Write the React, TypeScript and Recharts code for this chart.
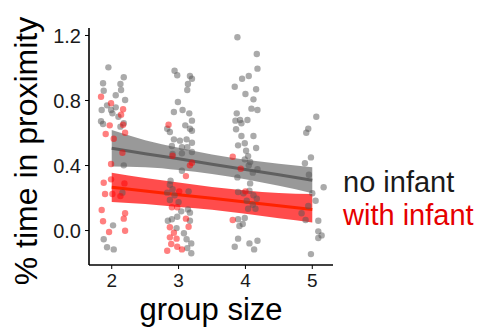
import { Area, ComposedChart, Line, Scatter, XAxis, YAxis } from "recharts";

const groupSizeTicks = [2, 3, 4, 5];
const proximityTicks = [0, 0.4, 0.8, 1.2];

const noInfantPoints: [number, number][] = [
  [1.95, 1.004], [2.18, 0.943], [1.87, 0.906], [2.13, 0.902], [1.88, 0.86], [2.14, 0.865],
  [2.06, 0.832], [2.2, 0.803], [1.93, 0.77], [1.85, 0.742], [1.99, 0.742], [2.06, 0.758],
  [2.01, 0.721], [2.1, 0.7], [1.84, 0.672], [1.87, 0.655], [2.13, 0.639], [2.18, 0.66],
  [2.18, 0.401], [2.16, 0.233], [2.02, 0.032], [1.88, -0.054], [1.93, -0.103], [2.03, -0.116],
  [2.94, 0.983], [2.98, 0.955], [3.17, 0.951], [3.2, 0.934], [3.14, 0.902], [3.13, 0.865],
  [2.99, 0.791], [2.93, 0.729], [3.06, 0.742], [3.16, 0.721], [3.2, 0.676], [3.1, 0.647],
  [2.83, 0.626], [2.87, 0.606], [3.17, 0.626], [3.2, 0.614], [2.93, 0.561], [3.02, 0.553],
  [3.12, 0.561], [3.2, 0.54], [2.9, 0.52], [3.05, 0.512], [3.13, 0.512], [3.2, 0.483],
  [2.91, 0.471], [3.05, 0.475], [3.05, 0.368], [2.88, 0.306], [2.87, 0.282], [2.91, 0.254],
  [2.83, 0.233], [3.15, 0.241], [2.94, 0.217], [2.87, 0.188], [3.0, 0.175], [3.04, 0.118],
  [3.14, 0.13], [3.17, 0.11], [2.84, 0.06], [2.9, 0.069], [2.98, 0.085], [3.17, 0.06],
  [2.97, 0.015], [3.08, -0.017], [3.12, -0.054], [3.19, -0.079], [3.13, -0.108], [3.19, -0.14],
  [3.88, 1.189], [4.17, 1.086], [4.18, 0.996], [3.95, 0.934], [4.05, 0.951], [3.84, 0.885],
  [4.16, 0.869], [4.0, 0.84], [4.12, 0.807], [4.09, 0.75], [4.18, 0.742], [3.87, 0.721],
  [3.85, 0.676], [3.92, 0.68], [4.03, 0.68], [3.94, 0.66], [3.86, 0.623], [3.94, 0.582],
  [4.12, 0.582], [3.89, 0.524], [3.99, 0.537], [4.16, 0.508], [4.01, 0.491], [4.04, 0.458],
  [3.99, 0.438], [4.07, 0.422], [4.05, 0.401], [4.18, 0.377], [4.11, 0.356], [3.88, 0.327],
  [4.07, 0.29], [3.89, 0.237], [3.97, 0.229], [4.06, 0.245], [4.12, 0.217], [4.17, 0.196],
  [4.02, 0.183], [4.11, 0.159], [4.04, 0.134], [4.15, 0.134], [3.89, 0.069], [3.99, 0.077],
  [3.91, 0.028], [3.96, 0.04], [3.89, -0.05], [4.18, -0.063], [3.84, -0.1], [4.06, -0.079],
  [4.13, -0.116],
  [5.06, 0.7], [4.94, 0.626], [4.91, 0.602], [4.98, 0.45], [4.89, 0.414], [4.95, 0.343],
  [5.17, 0.266], [5.05, 0.183], [4.84, 0.106], [4.9, 0.065], [5.09, 0.06], [5.09, -0.005],
  [5.09, -0.046], [5.14, -0.03], [4.98, -0.145], [4.94, 0.151], [5.0, 0.229],
];

const withInfantPoints: [number, number][] = [
  [1.84, 0.823], [1.99, 0.783], [2.17, 0.746], [2.14, 0.713], [1.97, 0.647], [2.17, 0.651],
  [1.91, 0.594], [2.2, 0.602], [2.03, 0.565], [2.16, 0.479], [1.99, 0.409], [1.88, 0.294],
  [1.99, 0.315], [2.19, 0.29], [1.9, 0.225], [2.01, 0.225], [2.13, 0.212], [1.85, 0.126],
  [2.2, 0.106], [2.18, 0.073], [1.87, 0.057], [1.96, -0.009], [2.2, -0.001],
  [2.85, 0.651], [2.91, 0.46], [3.17, 0.401], [3.2, 0.417], [3.11, 0.335], [3.01, 0.241],
  [2.9, 0.143], [2.98, 0.143], [3.11, 0.073], [2.87, 0.02], [3.15, 0.023], [2.93, -0.014],
  [2.87, -0.042], [2.97, -0.05], [2.89, -0.083], [2.98, -0.1], [2.83, -0.124], [3.05, -0.116],
  [3.81, 0.454], [3.93, 0.38], [4.0, 0.241], [3.81, 0.065],
];

// fitted lines and confidence bands
const fitX = [2, 2.5, 3, 3.5, 4, 4.5, 5];
const noInfantFit = [0.506, 0.473, 0.441, 0.408, 0.375, 0.343, 0.31];
const noInfantLow = [0.394, 0.39, 0.373, 0.348, 0.315, 0.275, 0.23];
const noInfantHigh = [0.618, 0.556, 0.509, 0.468, 0.435, 0.411, 0.39];
const withInfantFit = [0.266, 0.243, 0.22, 0.198, 0.175, 0.153, 0.13];
const withInfantLow = [0.176, 0.163, 0.145, 0.128, 0.103, 0.075, 0.05];
const withInfantHigh = [0.356, 0.323, 0.295, 0.268, 0.247, 0.231, 0.225];

const toRows = (pts: [number, number][]) => pts.map(([x, y]) => ({ x, y }));
const fitRows = (fit: number[], lo: number[], hi: number[]) =>
  fitX.map((x, i) => ({ x, fit: fit[i], band: [lo[i], hi[i]] }));

const FONT = "'Liberation Sans', Arial, Helvetica, sans-serif";

const dot = (fill: string) => (props: any) =>
  <circle cx={props.cx} cy={props.cy} r={3.2} fill={fill} fillOpacity={0.5} />;

export default function App() {
  const yTick = { fontSize: 20, fill: "#1a1a1a", fontFamily: FONT };
  const xTick = { fontSize: 19, fill: "#1a1a1a", fontFamily: FONT };
  return (
    <div style={{ position: "absolute", left: 0, top: 0, width: 479, height: 327, background: "#fff" }}>
      <ComposedChart width={479} height={327} margin={{ top: 28, right: 146, bottom: 0, left: 0 }}>
        <XAxis
          type="number"
          dataKey="x"
          domain={[1.66, 5.31]}
          ticks={groupSizeTicks}
          allowDataOverflow
          height={62}
          tick={xTick}
          tickSize={4}
          tickMargin={5}
          axisLine={{ stroke: "#000", strokeWidth: 1.6 }}
          tickLine={{ stroke: "#000" }}
        />
        <YAxis
          type="number"
          dataKey="y"
          domain={[-0.212, 1.246]}
          ticks={proximityTicks}
          allowDataOverflow
          width={89}
          tick={yTick}
          tickSize={4}
          tickMargin={4}
          tickFormatter={(v) => Number(v).toFixed(1)}
          axisLine={{ stroke: "#000", strokeWidth: 1.6 }}
          tickLine={{ stroke: "#000" }}
        />
        <Scatter data={toRows(noInfantPoints)} dataKey="y" shape={dot("#555555")} isAnimationActive={false} />
        <Scatter data={toRows(withInfantPoints)} dataKey="y" shape={dot("#ff0000")} isAnimationActive={false} />
        <Area
          data={fitRows(noInfantFit, noInfantLow, noInfantHigh)}
          dataKey="band"
          type="monotone"
          stroke="none"
          fill="#555555"
          fillOpacity={0.6}
          isAnimationActive={false}
        />
        <Area
          data={fitRows(withInfantFit, withInfantLow, withInfantHigh)}
          dataKey="band"
          type="monotone"
          stroke="none"
          fill="#ff0000"
          fillOpacity={0.7}
          isAnimationActive={false}
        />
        <Line
          data={fitRows(noInfantFit, noInfantLow, noInfantHigh)}
          dataKey="fit"
          type="linear"
          stroke="#606060"
          strokeWidth={3}
          dot={false}
          isAnimationActive={false}
        />
        <Line
          data={fitRows(withInfantFit, withInfantLow, withInfantHigh)}
          dataKey="fit"
          type="linear"
          stroke="#ff2200"
          strokeWidth={3}
          dot={false}
          isAnimationActive={false}
        />
      </ComposedChart>
      <svg width={479} height={327} style={{ position: "absolute", left: 0, top: 0, pointerEvents: "none" }}>
        <g fontFamily={FONT}>
          <text transform="translate(37,151) rotate(-90)" textAnchor="middle" fontSize={32} fill="#000">
            % time in proximity
          </text>
          <text x={211} y={320} textAnchor="middle" fontSize={31} fill="#000">
            group size
          </text>
          <text x={343} y={192} fontSize={29} fill="#1a1a1a">
            no infant
          </text>
          <text x={343} y={225} fontSize={29} fill="#e60000">
            with infant
          </text>
        </g>
      </svg>
    </div>
  );
}
